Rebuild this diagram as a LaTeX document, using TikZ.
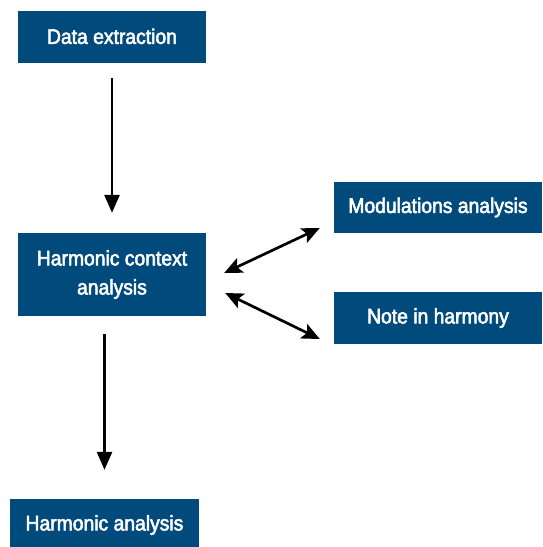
\documentclass[tikz,border=0pt]{standalone}
\usepackage{fontspec}
\setmainfont{Liberation Sans}[FakeBold=2.6,FakeStretch=0.92]
\usetikzlibrary{arrows.meta,calc}
\definecolor{boxblue}{HTML}{004A7C}
\begin{document}
\begin{tikzpicture}[x=1pt,y=-1pt,
  blk/.style={fill=boxblue,draw=none,text=white,align=center,inner sep=0pt,
    font=\fontsize{21}{29}\selectfont},
  conn/.style={line width=2.7pt,black},
  down/.style={conn,-{Triangle[length=18pt,width=15pt]}},
  both/.style={conn,{Stealth[length=18pt,width=16pt,inset=4pt]}-{Stealth[length=18pt,width=16pt,inset=4pt]}}]
\useasboundingbox (0,0) rectangle (542,547);
\fill[white] (0,0) rectangle (542,547);
\node[blk,minimum width=188pt,minimum height=52pt] (DE) at (112,37) {\raisebox{1.5pt}{Data extraction}};
\node[blk,minimum width=188pt,minimum height=83pt] (HCA) at (112,274.5) {Harmonic context\\analysis};
\node[blk,minimum width=208pt,minimum height=51pt] (MA) at (438,207.5) {\raisebox{1.5pt}{Modulations analysis}};
\node[blk,minimum width=208pt,minimum height=52pt] (NH) at (438,318) {\raisebox{1.5pt}{Note in harmony}};
\node[blk,minimum width=189pt,minimum height=52pt] (HA) at (104.5,525) {\raisebox{1pt}{Harmonic analysis}};
\draw[down,shorten <=15pt,shorten >=20pt] (DE.south) -- (HCA.north);
\draw[down,shorten <=18pt,shorten >=29pt] (HCA.south -| HA.north) -- (HA.north);
\draw[both] ([shift={(18,-1.5)}]HCA.east) -- ([shift={(-14,20.5)}]MA.west);
\draw[both] ([shift={(19,18.5)}]HCA.east) -- ([shift={(-14,21)}]NH.west);
\end{tikzpicture}
\end{document}
